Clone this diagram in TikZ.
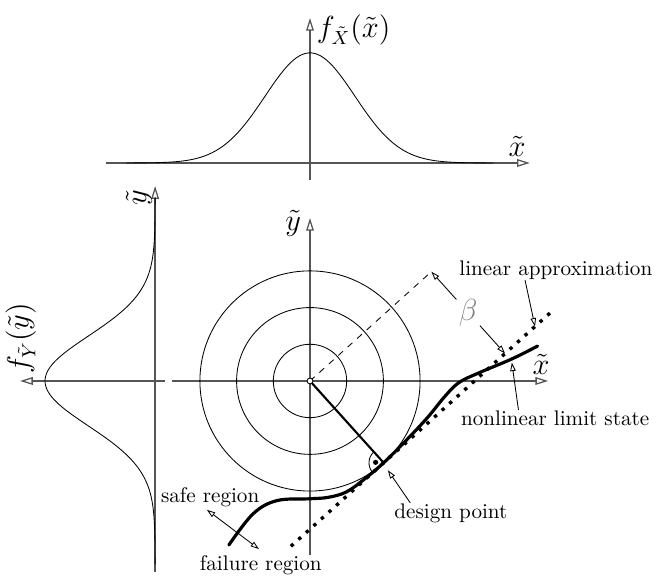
\documentclass[tikz,border=0pt]{standalone}
\usepackage{amsmath}
\usepackage{tikz}
\usetikzlibrary{arrows.meta, calc}
\definecolor{axisgray}{RGB}{85,85,85}
\definecolor{betagray}{RGB}{130,130,130}
\tikzset{
  axis/.style={-{Triangle[open, length=6pt, width=3.6pt]}, color=axisgray, line width=0.6pt},
  pointer/.style={-{Triangle[open, length=4pt, width=2.6pt]}, thin},
  twopointer/.style={{Triangle[open, length=4pt, width=2.6pt]}-{Triangle[open, length=4pt, width=2.6pt]}, thin},
  density/.style={thin, color=black},
  contour/.style={thin, color=black},
  limitstate/.style={line width=1.5pt, line cap=round},
  linapprox/.style={line width=1.6pt, dash pattern=on 1.6pt off 3.2pt},
  lbl/.style={inner sep=1pt},
  mathlbl/.style={inner sep=1pt, font=\fontsize{13.5}{16}\selectfont}
}

\begin{document}
\begin{tikzpicture}[x=0.61cm, y=0.61cm]
  \useasboundingbox (-8.447,-5.368) rectangle (9.510,10.381);

  % Key points
  \coordinate (O) at (0,0);
  \coordinate (D) at (-48:3);
  \coordinate (E) at (42:4.45);
  \coordinate (F) at ($(E)+(-48:3)$);
  \coordinate (L0) at ($(D)+(222:3.4)$);
  \coordinate (L1) at ($(D)+(42:6.1)$);

  % Axes
  \coordinate (xs) at (-3.76,0);   \coordinate (xe) at (6.49,0);
  \coordinate (ys) at (0,-4.74);   \coordinate (ye) at (0,4.44);
  \coordinate (txs) at (-5.56,5.94); \coordinate (txe) at (5.99,5.94);
  \coordinate (tys) at (0,5.48);   \coordinate (tye) at (0,9.89);
  \coordinate (lxs) at (-3.95,0);  \coordinate (lxe) at (-7.9,0);
  \coordinate (lys) at (-4.22,-5.2); \coordinate (lye) at (-4.22,5.31);
  \draw[axis] (xs) -- (xe);
  \draw[axis] (ys) -- (ye);
  \draw[axis] (txs) -- (txe);
  \draw[axis] (tys) -- (tye);
  \draw[axis] (lxs) -- (lxe);
  \draw[axis] (lys) -- (lye);

  % Densities
  \draw[density] plot[domain=-5:5, samples=120] (\x, {5.94+3*exp(-\x*\x/3)});
  \draw[density] plot[domain=-5:5, samples=120] ({-4.22-3*exp(-\x*\x/3)}, \x);

  % Contours
  \foreach \r in {1,2,3}
    \draw[contour] (O) circle (\r);

  % Beta construction
  \draw[thin, dashed] (O) -- (E);
  \node[mathlbl, color=betagray] (beta) at ($(E)!0.5!(F)$) {$\beta$};
  \draw[pointer] (beta) -- (E);
  \draw[pointer] (beta) -- (F);

  % Limit states
  \draw[linapprox] (L0) -- (L1);
  \draw[limitstate] plot[smooth, tension=0.6] coordinates {
    (-2.21,-4.47) (-1.55,-3.62) (-0.9,-3.26) (0,-3.21) (0.5,-3.17)
    (1.0,-3.02) (1.5,-2.66) (2.007,-2.229) (2.6,-1.64) (3.2,-1.0)
    (3.65,-0.45) (4.05,-0.05) (4.6,0.22) (5.5,0.6) (6.2,0.95)};

  % Design point
  \draw[line width=1pt] (O) -- (D);
  \draw[thin] ($(D)+(132:0.4)$) arc[start angle=132, end angle=222, radius=0.4];
  \fill ($(D)+(177:0.22)$) circle (0.07);
  \draw[thin, fill=white] (O) circle (0.08);

  % Labels
  \node[mathlbl] (xlab) at (6.3,0.45) {$\tilde{x}$};
  \node[mathlbl] (ylab) at (-0.46,4.3) {$\tilde{y}$};
  \node[mathlbl] (txlab) at (5.64,6.4) {$\tilde{x}$};
  \node[mathlbl, anchor=west] (tflab) at (0.12,9.56) {$f_{\tilde{X}}(\tilde{x})$};
  \node[mathlbl, rotate=90] (lylab) at (-4.66,5.0) {$\tilde{y}$};
  \node[mathlbl, rotate=90, anchor=west] (lflab) at (-7.88,0.14) {$f_{\tilde{Y}}(\tilde{y})$};

  \node[lbl] (lin) at (6.70,3.02) {linear approximation};
  \coordinate (linTip) at ($(D)+(42:5.55)$);
  \draw[pointer] ($(lin.south)+(-0.84,0.05)$) -- (linTip);

  \node[lbl] (nonlin) at (6.68,-1.01) {nonlinear limit state};
  \coordinate (nonlinTip) at (5.5,0.5);
  \draw[pointer] ($(nonlin.north)+(-1.0,-0.05)$) -- (nonlinTip);

  \node[lbl] (dp) at (3.84,-3.60) {design point};
  \coordinate (dpTip) at (2.12,-2.43);
  \draw[pointer] ($(dp.north west)+(0.5,-0.05)$) -- (dpTip);

  \node[lbl] (safe) at (-2.72,-3.16) {safe region};
  \node[lbl] (fail) at (-1.34,-5.01) {failure region};
  \coordinate (safeTip) at (-2.81,-3.51);
  \coordinate (failTip) at (-1.39,-4.58);
  \draw[twopointer] (safeTip) -- (failTip);
\end{tikzpicture}
\end{document}
